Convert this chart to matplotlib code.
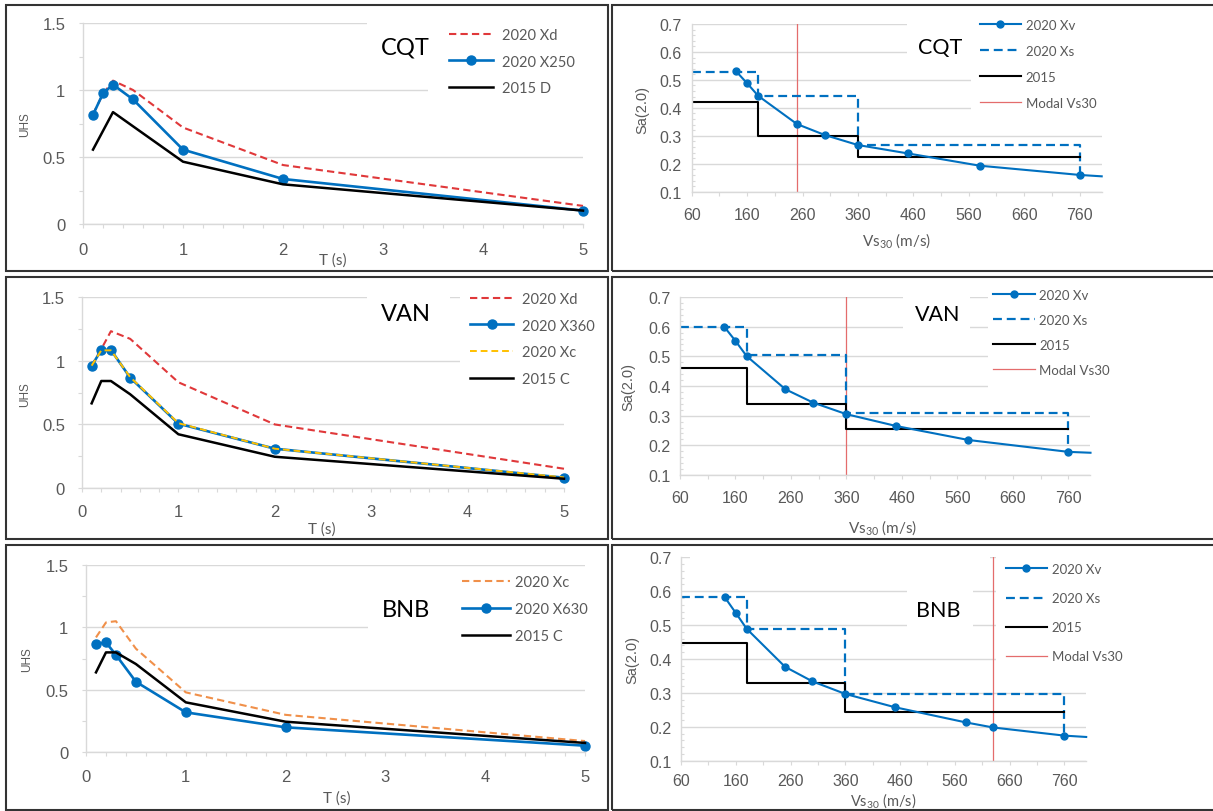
import matplotlib
matplotlib.use('Agg')
import matplotlib.pyplot as plt
from matplotlib.patches import Rectangle
from matplotlib.ticker import MultipleLocator, FixedLocator
import numpy as np

plt.rcParams['font.family'] = ['Liberation Sans', 'DejaVu Sans']
plt.rcParams['mathtext.fontset'] = 'custom'
plt.rcParams['mathtext.rm'] = 'Lato'
plt.rcParams['mathtext.default'] = 'rm'

# ---------------- data ----------------
# UHS spectra (left column)
T_all = [0.1, 0.2, 0.3, 0.5, 1, 2, 5]
T_2015_CQT = [0.1, 0.3, 1, 2, 5]

CQT_Xd = [0.82, 0.97, 1.07, 1.00, 0.72, 0.44, 0.135]
CQT_X250 = [0.815, 0.975, 1.04, 0.93, 0.555, 0.336, 0.10]
CQT_2015D = [0.555, 0.835, 0.465, 0.296, 0.10]

VAN_Xd = [0.96, 1.09, 1.23, 1.17, 0.83, 0.50, 0.153]
VAN_X360 = [0.958, 1.083, 1.083, 0.866, 0.506, 0.31, 0.083]
VAN_Xc = [0.96, 1.08, 1.08, 0.87, 0.51, 0.31, 0.085]
VAN_2015C = [0.665, 0.84, 0.84, 0.736, 0.423, 0.247, 0.075]

BNB_Xc = [0.92, 1.04, 1.05, 0.83, 0.48, 0.30, 0.09]
BNB_X630 = [0.867, 0.88, 0.78, 0.565, 0.32, 0.20, 0.053]
BNB_2015C = [0.64, 0.80, 0.80, 0.707, 0.40, 0.245, 0.075]

# Sa(2.0) vs Vs30 (right column)
Vs_CQT = [140, 160, 180, 250, 300, 360, 450, 580, 760, 800]
CQT_Xv = [0.531, 0.488, 0.443, 0.342, 0.303, 0.267, 0.237, 0.193, 0.16, 0.155]
Vs_VAN = [140, 160, 180, 250, 300, 360, 450, 580, 760, 800]
VAN_Xv = [0.599, 0.552, 0.501, 0.389, 0.344, 0.305, 0.265, 0.218, 0.178, 0.175]
Vs_BNB = [140, 160, 180, 250, 300, 360, 450, 580, 630, 760, 800]
BNB_Xv = [0.582, 0.536, 0.489, 0.377, 0.334, 0.297, 0.258, 0.213, 0.198, 0.174, 0.17]

class_edges = [60, 180, 360, 760]
CQT_Xs = [0.53, 0.443, 0.267]
CQT_2015 = [0.422, 0.30, 0.223]
VAN_Xs = [0.60, 0.504, 0.308]
VAN_2015 = [0.462, 0.338, 0.255]
BNB_Xs = [0.583, 0.488, 0.297]
BNB_2015 = [0.447, 0.328, 0.244]
modal_vs30 = {'CQT': 250, 'VAN': 360, 'BNB': 630}

uhs_xticks = [0, 1, 2, 3, 4, 5]
uhs_yticks = [0, 0.5, 1, 1.5]
uhs_ylabels = ['0', '0.5', '1', '1.5']
vs_xticks = [60, 160, 260, 360, 460, 560, 660, 760]
sa_yticks = [0.1, 0.2, 0.3, 0.4, 0.5, 0.6, 0.7]
sa_ylabels = ['0.1', '0.2', '0.3', '0.4', '0.5', '0.6', '0.7']

# ---------------- style ----------------
W, H = 1213, 812
GRID = '#d9d9d9'
TXT = '#595959'
BLUE = '#0070C0'
RED = '#E0383A'
ORANGE = '#F0904A'
YELLOW = '#FFC000'
MODAL = '#E46C6C'

fig = plt.figure(figsize=(W / 100, H / 100), dpi=100)
fig.patch.set_facecolor('white')


def px_axes(x0, ytop, x1, ybot):
    return fig.add_axes([x0 / W, 1 - ybot / H, (x1 - x0) / W, (ybot - ytop) / H])


def occlude(x0, y0, x1, y1):
    fig.add_artist(Rectangle((x0 / W, 1 - y1 / H), (x1 - x0) / W, (y1 - y0) / H,
                             transform=fig.transFigure, facecolor='white',
                             edgecolor='none', zorder=1))


def border(x0, y0, x1, y1):
    fig.add_artist(Rectangle((x0 / W, 1 - y1 / H), (x1 - x0) / W, (y1 - y0) / H,
                             transform=fig.transFigure, fill=False,
                             edgecolor='#333333', lw=1.5, zorder=6))


def ftext(x, y, s, **kw):
    return fig.text(x / W, 1 - y / H, s, **kw)


def flegend(handles, labels, x, y, fs, hl, htp, ls):
    fig.legend(handles, labels, loc='upper left',
               bbox_to_anchor=(x / W, 1 - y / H), bbox_transform=fig.transFigure,
               frameon=False, prop={'family': 'Lato', 'size': fs},
               labelcolor=TXT, handlelength=hl, handletextpad=htp,
               labelspacing=ls, borderpad=0, borderaxespad=0, numpoints=1)


def style_common(ax):
    ax.grid(axis='y', which='major', color=GRID, lw=1.0)
    ax.set_axisbelow(True)
    for s in ('top', 'right'):
        ax.spines[s].set_visible(False)
    for s in ('left', 'bottom'):
        ax.spines[s].set_color(GRID)
        ax.spines[s].set_linewidth(1.0)
    ax.patch.set_alpha(0)


def style_left(ax, xpad, ypad):
    ax.set_xlim(0, 5)
    ax.set_ylim(0, 1.5)
    ax.set_xticks(uhs_xticks)
    ax.set_yticks(uhs_yticks, uhs_ylabels)
    ax.xaxis.set_minor_locator(MultipleLocator(0.2))
    ax.yaxis.set_minor_locator(MultipleLocator(0.25))
    style_common(ax)
    ax.tick_params(which='both', direction='out', color=GRID, width=0.8, length=3.2)
    ax.tick_params(axis='x', which='major', pad=xpad, labelsize=12, labelcolor=TXT)
    ax.tick_params(axis='y', which='major', pad=ypad, labelsize=12, labelcolor=TXT)


def style_right(ax, xpad, ypad):
    ax.set_xlim(60, 800)
    ax.set_ylim(0.1, 0.7)
    ax.set_xticks(vs_xticks)
    ax.set_yticks(sa_yticks, sa_ylabels)
    ax.xaxis.set_minor_locator(FixedLocator(np.arange(60, 801, 50)))
    ax.yaxis.set_minor_locator(FixedLocator(np.arange(0.1, 0.7001, 0.02)))
    style_common(ax)
    ax.tick_params(which='both', color=GRID, width=0.8)
    ax.tick_params(axis='x', which='both', direction='out', length=3.2)
    ax.tick_params(axis='y', which='minor', direction='in', length=2.0)
    ax.tick_params(axis='y', which='major', length=0)
    ax.tick_params(axis='x', which='major', pad=xpad, labelsize=11.5, labelcolor=TXT)
    ax.tick_params(axis='y', which='major', pad=ypad, labelsize=11.5, labelcolor=TXT)


def draw_right(ax, vs, xv, xs, s15, modal):
    mline = ax.axvline(modal, color=MODAL, lw=0.9, zorder=1.5)
    xs_x, xs_y, s_x, s_y = [], [], [], []
    for i in range(len(xs)):
        xs_x += [class_edges[i], class_edges[i + 1]]
        xs_y += [xs[i], xs[i]]
        s_x += [class_edges[i], class_edges[i + 1]]
        s_y += [s15[i], s15[i]]
    xs_x.append(class_edges[-1])
    xs_y.append(xv[vs.index(class_edges[-1])])
    l_xs, = ax.plot(xs_x, xs_y, color=BLUE, lw=1.6, dashes=(4, 2.2), zorder=2)
    l_15, = ax.plot(s_x, s_y, color='black', lw=1.5, zorder=2.1)
    l_xv, = ax.plot(vs, xv, color=BLUE, lw=1.5, marker='o', ms=5,
                    markevery=list(range(len(vs) - 1)), clip_on=False, zorder=2.2)
    return [l_xv, l_xs, l_15, mline]


# ---------------- panel borders ----------------
rows = [(6, 272), (278, 540), (546, 811)]
for (y0, y1) in rows:
    border(6, y0, 608, y1)
    border(612, y0, 1216, y1)

# ---------------- left column: UHS ----------------
# CQT
ax = px_axes(83, 24, 583, 225)
style_left(ax, 9.5, 9.5)
l1, = ax.plot(T_all, CQT_Xd, color=RED, lw=1.5, dashes=(3.5, 2), clip_on=False)
l2, = ax.plot(T_all, CQT_X250, color=BLUE, lw=1.9, marker='o', ms=6.5, clip_on=False)
l3, = ax.plot(T_2015_CQT, CQT_2015D, color='black', lw=1.8, clip_on=False)
occlude(367, 14, 428, 70)
occlude(428, 14, 592, 120)
ftext(405, 55, 'CQT', family='Lato', fontsize=17, color='black', ha='center', va='baseline', zorder=3)
flegend([l1, l2, l3], ['2020 Xd', '2020 X250', '2015 D'], 449, 29, 10.5, 3.0, 0.6, 0.86)
ftext(25, 125, 'UHS', rotation=90, ha='center', va='center', fontsize=8.5, color=TXT)
ftext(333, 261, 'T (s)', family='Lato', ha='center', va='center', fontsize=11, color=TXT)

# VAN
ax = px_axes(82, 297.7, 564, 489.3)
style_left(ax, 8.2, 9.0)
l1, = ax.plot(T_all, VAN_Xd, color=RED, lw=1.5, dashes=(3.5, 2), clip_on=False)
l2, = ax.plot(T_all, VAN_X360, color=BLUE, lw=1.9, marker='o', ms=6.5, clip_on=False)
l3, = ax.plot(T_all, VAN_Xc, color=YELLOW, lw=1.4, dashes=(3.5, 2), clip_on=False)
l4, = ax.plot(T_all, VAN_2015C, color='black', lw=1.8, clip_on=False)
occlude(367, 285, 450, 345)
occlude(460, 285, 600, 400)
ftext(406, 321, 'VAN', family='Lato', fontsize=17, color='black', ha='center', va='baseline', zorder=3)
flegend([l1, l2, l3, l4], ['2020 Xd', '2020 X360', '2020 Xc', '2015 C'], 470, 293, 10.5, 2.95, 0.6, 0.86)
ftext(25, 395, 'UHS', rotation=90, ha='center', va='center', fontsize=8.5, color=TXT)
ftext(322, 530, 'T (s)', family='Lato', ha='center', va='center', fontsize=11, color=TXT)

# BNB
ax = px_axes(86, 566, 585, 753.3)
style_left(ax, 9.0, 9.5)
l1, = ax.plot(T_all, BNB_Xc, color=ORANGE, lw=1.5, dashes=(3.5, 2), clip_on=False)
l2, = ax.plot(T_all, BNB_X630, color=BLUE, lw=1.9, marker='o', ms=6.5, clip_on=False)
l3, = ax.plot(T_all, BNB_2015C, color='black', lw=1.8, clip_on=False)
occlude(368, 590, 450, 650)
occlude(450, 570, 600, 655)
ftext(406, 617, 'BNB', family='Lato', fontsize=17, color='black', ha='center', va='baseline', zorder=3)
flegend([l1, l2, l3], ['2020 Xc', '2020 X630', '2015 C'], 462, 576, 10.5, 3.3, 0.35, 0.88)
ftext(27, 660, 'UHS', rotation=90, ha='center', va='center', fontsize=8.5, color=TXT)
ftext(337, 799, 'T (s)', family='Lato', ha='center', va='center', fontsize=11, color=TXT)

# ---------------- right column: Sa(2.0) vs Vs30 ----------------
vs_label = r'Vs$_{\mathrm{30}}$ (m/s)'
leg_labels = ['2020 Xv', '2020 Xs', '2015', 'Modal Vs30']

# CQT
ax = px_axes(691.7, 25, 1101.7, 192.7)
style_right(ax, 7.5, 7)
h = draw_right(ax, Vs_CQT, CQT_Xv, CQT_Xs, CQT_2015, modal_vs30['CQT'])
occlude(907, 14, 971, 70)
occlude(971, 14, 1110, 125)
ftext(940, 54, 'CQT', family='Lato', fontsize=15.5, color='black', ha='center', va='baseline', zorder=3)
flegend(h, leg_labels, 980, 20, 9.5, 3.1, 0.38, 1.05)
ftext(642, 110, 'Sa(2.0)', rotation=90, ha='center', va='center', fontsize=10.5, color=TXT)
ftext(897, 241, vs_label, family='Lato', ha='center', va='center', fontsize=11, color=TXT)

# VAN
ax = px_axes(680, 298, 1090.5, 476)
style_right(ax, 7.5, 7)
h = draw_right(ax, Vs_VAN, VAN_Xv, VAN_Xs, VAN_2015, modal_vs30['VAN'])
occlude(903, 285, 970, 345)
occlude(988, 285, 1110, 400)
ftext(938, 321, 'VAN', family='Lato', fontsize=15.5, color='black', ha='center', va='baseline', zorder=3)
flegend(h, leg_labels, 993, 290, 9.5, 3.2, 0.3, 0.98)
ftext(628, 387, 'Sa(2.0)', rotation=90, ha='center', va='center', fontsize=10.5, color=TXT)
ftext(883, 528, vs_label, family='Lato', ha='center', va='center', fontsize=11, color=TXT)

# BNB
ax = px_axes(681, 558.3, 1086.2, 761.7)
style_right(ax, 5.5, 7)
h = draw_right(ax, Vs_BNB, BNB_Xv, BNB_Xs, BNB_2015, modal_vs30['BNB'])
occlude(690, 554, 990, 562)
occlude(907, 554, 973, 645)
occlude(996, 554, 1125, 680)
ftext(938, 617, 'BNB', family='Lato', fontsize=15.5, color='black', ha='center', va='baseline', zorder=3)
flegend(h, leg_labels, 1006, 564, 9.5, 3.1, 0.38, 1.3)
ftext(632, 660, 'Sa(2.0)', rotation=90, ha='center', va='center', fontsize=10.5, color=TXT)
ftext(883, 801, vs_label, family='Lato', ha='center', va='center', fontsize=10.5, color=TXT)

fig.savefig('out.png', dpi=100, facecolor='white')
